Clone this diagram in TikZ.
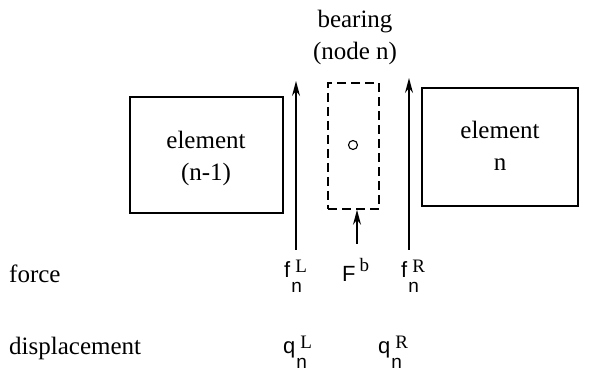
\documentclass[tikz,border=0pt]{standalone}
\usepackage{fontspec}
\setmainfont{Liberation Serif}
\newfontfamily\lsans{Liberation Sans}
\usetikzlibrary{arrows.meta}
\newcommand\mystk[2]{\makebox[0pt][l]{\raisebox{-15pt}{\lsans\fontsize{19}{19}\selectfont #2}}\kern4pt\raisebox{5pt}{\rmfamily\fontsize{19}{19}\selectfont #1}}
\begin{document}
\begin{tikzpicture}[x=1pt,y=-1pt,
  box/.style={draw,line width=1.6pt,inner sep=0pt},
  lbl/.style={font=\fontsize{25}{32}\selectfont,inner sep=0pt,align=center},
  sym/.style={font=\lsans\fontsize{22}{24}\selectfont,inner sep=0pt},
  force arrow/.style={line width=1.4pt,-{Stealth[length=15pt,width=8pt,inset=5pt]}}]
\useasboundingbox (0,0) rectangle (594,371);
% boxes
\node[box,minimum width=153pt,minimum height=116pt] (el1) at (206.5,155) {};
\node[box,minimum width=156pt,minimum height=118pt] (el2) at (500,147) {};
\node[draw,line width=1.6pt,dash pattern=on 9pt off 5pt,minimum width=51pt,minimum height=126pt,inner sep=0pt] (brg) at (353.5,146) {};
\node[draw,line width=1.1pt,circle,minimum size=9pt,inner sep=0pt] (ctr) at (353,145) {};
% texts
\node[lbl] (t1) at (206,158) {element\\(n-1)};
\node[lbl] (t2) at (500,146) {element\\n};
\node[lbl] (tb) at (355,37) {bearing\\(node n)};
\node[lbl,anchor=west] (force) at (9,274) {force};
\node[lbl,anchor=west] (disp) at (9,348) {displacement};
% symbols
\node[sym,anchor=base west] (fL) at (284,277) {f\kern1pt\mystk{L}{n}};
\node[sym,anchor=base west] (Fb) at (342,282) {F\kern4pt\raisebox{10pt}{\rmfamily\fontsize{19}{19}\selectfont b}};
\node[sym,anchor=base west] (fR) at (401,277) {f\kern1pt\mystk{R}{n}};
\node[sym,anchor=base west] (qL) at (283,353) {q\kern1pt\mystk{L}{n}};
\node[sym,anchor=base west] (qR) at (378,353) {q\kern1pt\mystk{R}{n}};
% arrows
\coordinate (aL0) at (296,250);
\coordinate (aL1) at (296,81);
\coordinate (aR0) at (409,250);
\coordinate (aR1) at (409,78);
\coordinate (aB0) at (357,244);
\draw[force arrow] (aL0) -- (aL1);
\draw[force arrow] (aR0) -- (aR1);
\draw[force arrow] (aB0) -- (aB0 |- brg.south);
\end{tikzpicture}
\end{document}
